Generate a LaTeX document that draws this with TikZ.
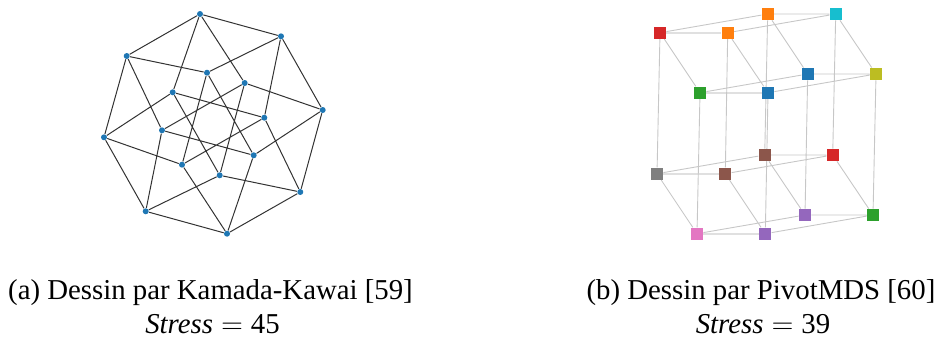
\documentclass[tikz,border=0pt]{standalone}
\usepackage{fontspec}
\setmainfont{Liberation Serif}
\usetikzlibrary{backgrounds}
\definecolor{tabblue}{HTML}{1F77B4}
\definecolor{taborange}{HTML}{FF7F0E}
\definecolor{tabgreen}{HTML}{2CA02C}
\definecolor{tabred}{HTML}{D62728}
\definecolor{tabpurple}{HTML}{9467BD}
\definecolor{tabbrown}{HTML}{8C564B}
\definecolor{tabpink}{HTML}{E377C2}
\definecolor{tabgray}{HTML}{7F7F7F}
\definecolor{tabolive}{HTML}{BCBD22}
\definecolor{tabcyan}{HTML}{17BECF}
\tikzset{
  kkdot/.style={circle, fill=tabblue, inner sep=0pt, minimum size=3pt},
  kkedge/.style={black!80, line width=0.5pt},
  mdsbox/.style={rectangle, inner sep=0pt, minimum size=6pt},
  mdsedge/.style={black!22, line width=0.45pt},
  mdsedgewide/.style={black!12, line width=1pt},
  caption/.style={anchor=base, inner sep=0pt, font=\fontsize{14.4}{17}\selectfont}
}
\begin{document}
\begin{tikzpicture}[x=0.5pt, y=-0.5pt]
\useasboundingbox (0,0) rectangle (941,338);

% Kamada-Kawai nodes
\node (kA) [kkdot] at (200,14) {};
\node (kB) [kkdot] at (281,36.3) {};
\node (kC) [kkdot] at (126.7,56) {};
\node (kD) [kkdot] at (207,72.7) {};
\node (kE) [kkdot] at (244.7,83) {};
\node (kF) [kkdot] at (172.7,92.3) {};
\node (kG) [kkdot] at (322.7,110) {};
\node (kH) [kkdot] at (264.3,117.7) {};
\node (kI) [kkdot] at (162,130.3) {};
\node (kJ) [kkdot] at (104,137.3) {};
\node (kK) [kkdot] at (253.7,155.3) {};
\node (kL) [kkdot] at (182,164.7) {};
\node (kM) [kkdot] at (219.7,175.3) {};
\node (kN) [kkdot] at (300.3,192) {};
\node (kO) [kkdot] at (145.7,211.3) {};
\node (kP) [kkdot] at (227,233.7) {};

% Kamada-Kawai edges
\begin{scope}[on background layer]
\draw[kkedge] (kA) -- (kB) (kA) -- (kC) (kA) -- (kE) (kA) -- (kF)
  (kB) -- (kD) (kB) -- (kG) (kB) -- (kH)
  (kC) -- (kD) (kC) -- (kI) (kC) -- (kJ)
  (kD) -- (kK) (kD) -- (kL)
  (kE) -- (kG) (kE) -- (kI) (kE) -- (kM)
  (kF) -- (kH) (kF) -- (kJ) (kF) -- (kM)
  (kG) -- (kK) (kG) -- (kN)
  (kH) -- (kL) (kH) -- (kN)
  (kI) -- (kK) (kI) -- (kO)
  (kJ) -- (kL) (kJ) -- (kO)
  (kK) -- (kP) (kL) -- (kP)
  (kM) -- (kN) (kM) -- (kO)
  (kN) -- (kP) (kO) -- (kP);
\end{scope}

% PivotMDS nodes
\node (q1) [mdsbox, fill=tabred] at (660,32.7) {};
\node (q2) [mdsbox, fill=taborange] at (727.7,32.7) {};
\node (q3) [mdsbox, fill=taborange] at (767.7,14) {};
\node (q4) [mdsbox, fill=tabcyan] at (835.7,14) {};
\node (q5) [mdsbox, fill=tabgreen] at (700,92.7) {};
\node (q6) [mdsbox, fill=tabblue] at (768,92.7) {};
\node (q7) [mdsbox, fill=tabblue] at (807.7,74) {};
\node (q8) [mdsbox, fill=tabolive] at (876,74) {};
\node (q9) [mdsbox, fill=tabgray] at (657,173.7) {};
\node (q10) [mdsbox, fill=tabbrown] at (725.3,173.7) {};
\node (q11) [mdsbox, fill=tabbrown] at (764.7,155) {};
\node (q12) [mdsbox, fill=tabred] at (832.7,155) {};
\node (q13) [mdsbox, fill=tabpink] at (697,233.7) {};
\node (q14) [mdsbox, fill=tabpurple] at (765.3,233.7) {};
\node (q15) [mdsbox, fill=tabpurple] at (805,215) {};
\node (q16) [mdsbox, fill=tabgreen] at (873,215) {};

% PivotMDS edges
\begin{scope}[on background layer]
\draw[mdsedgewide] (q1) -- (q2) (q5) -- (q6) (q9) -- (q10) (q13) -- (q14);
\draw[mdsedge] (q1) -- (q3) (q3) -- (q4) (q2) -- (q4)
  (q5) -- (q7) (q7) -- (q8) (q6) -- (q8)
  (q1) -- (q5) (q2) -- (q6) (q3) -- (q7) (q4) -- (q8)
  (q9) -- (q11) (q11) -- (q12) (q10) -- (q12)
  (q13) -- (q15) (q15) -- (q16) (q14) -- (q16)
  (q9) -- (q13) (q10) -- (q14) (q11) -- (q15) (q12) -- (q16)
  (q1) -- (q9) (q2) -- (q10) (q3) -- (q11) (q4) -- (q12)
  (q5) -- (q13) (q6) -- (q14) (q7) -- (q15) (q8) -- (q16);
\end{scope}

% Captions
\node (capa) [caption] at (210.5,299) {(a) Dessin par Kamada-Kawai [59]};
\node (stressa) [caption] at (212.5,333) {\textit{Stress}${}={}$45};
\node (capb) [caption] at (761,299) {(b) Dessin par PivotMDS [60]};
\node (stressb) [caption] at (763,333) {\textit{Stress}${}={}$39};

\end{tikzpicture}
\end{document}
